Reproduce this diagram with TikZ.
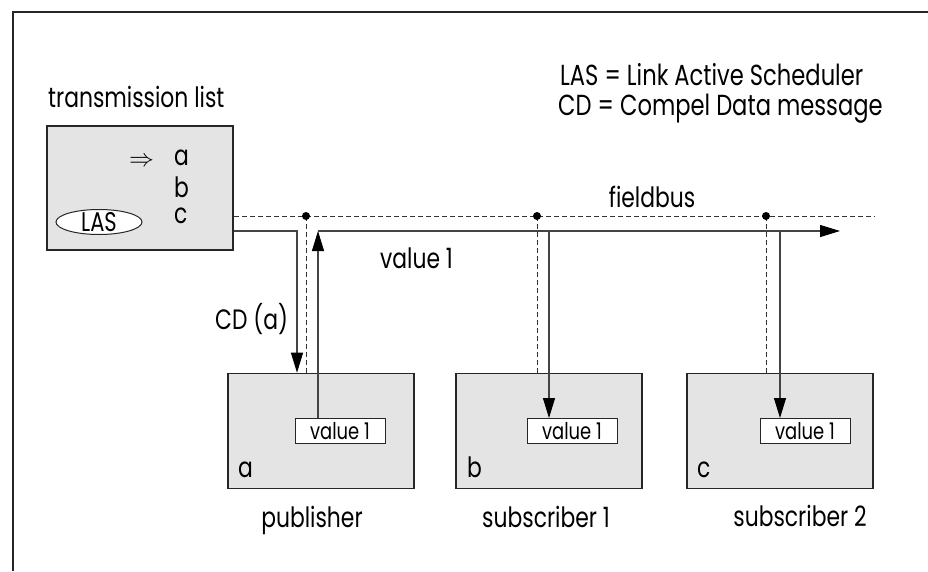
\documentclass[tikz,border=0pt]{standalone}
\usepackage{fontspec}
\setmainfont{Poppins}[FakeStretch=0.78]
\usetikzlibrary{arrows.meta,shapes.geometric,calc}
\definecolor{boxgray}{HTML}{E4E4E4}
\definecolor{linegray}{HTML}{444444}
\tikzset{
  frame/.style={line width=1.4pt, draw=black!85},
  unit/.style={draw=black!85, line width=1.6pt, fill=boxgray, minimum width=186pt, minimum height=115pt, inner sep=0pt},
  valbox/.style={draw=black!85, line width=1pt, fill=white, minimum width=90pt, minimum height=25pt, inner sep=0pt, text height=16pt, text depth=0pt, font=\fontsize{23}{26}\selectfont},
  lbl/.style={font=\fontsize{28}{32}\selectfont, inner sep=0pt},
  bus/.style={dashed, dash pattern=on 5pt off 3pt, line width=0.9pt, draw=black!80},
  sig/.style={line width=1.1pt, draw=linegray},
  tip/.style={-{Triangle[length=20pt,width=12pt,color=black]}},
  dot/.style={circle, fill=black, inner sep=0pt, minimum size=8pt},
}
\begin{document}
\begin{tikzpicture}[x=1pt,y=-1pt]
\useasboundingbox (0,0) rectangle (928,571);
% frame (open to right and bottom)
\draw[frame] (13,571) -- (13,12) -- (928,12);

% legend
\node[font=\fontsize{29}{32}\selectfont, inner sep=0pt, anchor=base west] (leg1) at (560,85) {LAS = Link Active Scheduler};
\node[font=\fontsize{29}{32}\selectfont, inner sep=0pt, anchor=base west] (leg2) at (558,115) {CD = Compel Data message};

% transmission list
\node[lbl, anchor=base west] (tltitle) at (48,107) {transmission list};
\node[draw=black!85, line width=1.6pt, fill=boxgray, minimum width=186pt, minimum height=124pt, inner sep=0pt] (tl) at (140,188) {};
\node[font=\fontsize{34}{36}\selectfont, inner sep=0pt, anchor=base west, text depth=0pt] (arr) at (129,166) {$\Rightarrow$};
\node[lbl, anchor=base west, text depth=0pt] (la) at (174,165) {a};
\node[lbl, anchor=base west, text depth=0pt] (lb) at (174,197) {b};
\node[lbl, anchor=base west, text depth=0pt, text height=14pt] (lc) at (174,223) {c};
\node[ellipse, draw=black!85, line width=1pt, fill=white, minimum width=86pt, minimum height=25pt, inner sep=0pt] (las) at (99,222) {};
\node[font=\fontsize{27}{30}\selectfont, inner sep=0pt] (lastxt) at (las.center) {LAS};

% station boxes
\node[unit] (pub) at (321,431) {};
\node[unit] (sub1) at (549,431) {};
\node[unit] (sub2) at (780,431) {};
\node[valbox] (v1) at (340,431) {value 1};
\node[valbox] (v2) at (572,431) {value 1};
\node[valbox] (v3) at (805,431) {value 1};
\node[lbl, anchor=base west] (na) at (238,477) {a};
\node[lbl, anchor=base west] (nb) at (467,477) {b};
\node[lbl, anchor=base west] (nc) at (697,477) {c};
\node[lbl, anchor=base] (tpub) at (312,527) {publisher};
\node[lbl, anchor=base] (tsub1) at (546,527) {subscriber 1};
\node[lbl, anchor=base] (tsub2) at (800,526) {subscriber 2};

% fieldbus
\coordinate (d1) at (306,216);
\coordinate (d2) at (537,216);
\coordinate (d3) at (766,216);
\coordinate (busend) at (875,216);
\draw[bus] (tl.east |- d1) -- (busend);
\draw[bus] (d1) -- (d1 |- pub.north);
\draw[bus] (d2) -- (d2 |- sub1.north);
\draw[bus] (d3) -- (d3 |- sub2.north);
\node[dot] (k1) at (d1) {};
\node[dot] (k2) at (d2) {};
\node[dot] (k3) at (d3) {};
\node[lbl, anchor=base] (fb) at (652,207) {fieldbus};

% CD (a) request
\coordinate (cd) at (297,231);
\draw[sig, tip] (tl.east |- cd) -- (cd) -- (cd |- pub.north);
\node[lbl, anchor=base west] (tcd) at (215,329) {CD (a)};

% value 1 broadcast
\coordinate (v) at (318,231);
\coordinate (vend) at (840,231);
\coordinate (s1) at (549,231);
\coordinate (s2) at (780,231);
\draw[sig, tip] (v |- v1.north) -- (v);
\draw[sig, tip] (v) -- (vend);
\draw[sig, tip] (s1) -- (s1 |- v2.north);
\draw[sig, tip] (s2) -- (s2 |- v3.north);
\node[lbl, anchor=base west] (tv) at (380,268) {value 1};
\end{tikzpicture}
\end{document}
